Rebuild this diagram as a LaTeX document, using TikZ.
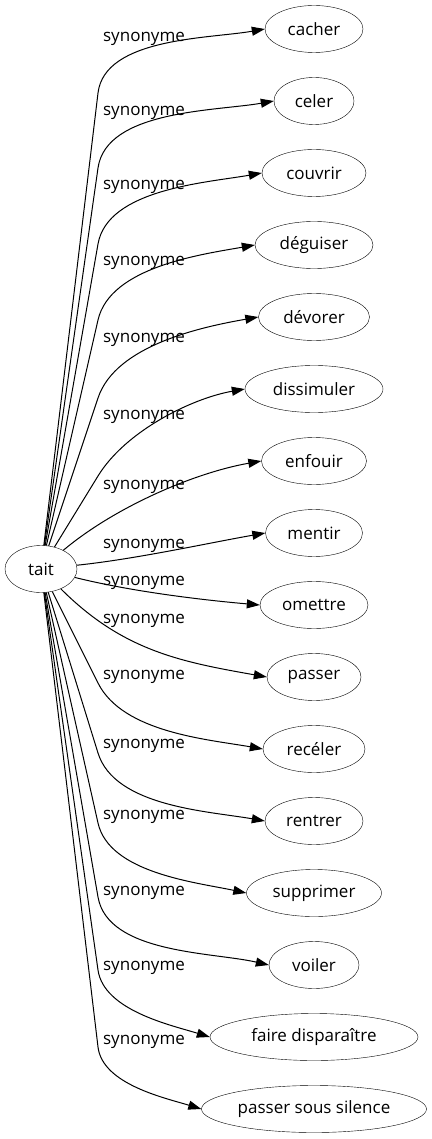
\documentclass[tikz,border=0pt]{standalone}
\usepackage{fontspec}
\setmainfont{Open Sans}
\usepackage{tikz}
\usetikzlibrary{shapes.geometric,arrows.meta,positioning}

\tikzset{
    word/.style={draw, ellipse, inner sep=0pt, minimum height=47pt, font=\fontsize{17}{20}\selectfont},
    rel/.style={inner sep=0pt, yshift=-3.5pt, font=\fontsize{17}{20}\selectfont},
    syn/.style={-{Triangle[length=13pt,width=9pt]}, line width=1pt, looseness=0.8},
}

\begin{document}
\begin{tikzpicture}[x=1pt,y=1pt]
    \useasboundingbox (0,0) rectangle (431,-1139);

    % Source word
    \node[word, minimum width=72pt] (tait) at (41,-569) {tait};

    % Synonyms
    \foreach \i/\t/\w in {1/cacher/98, 2/celer/80, 3/couvrir/104, 4/déguiser/118,
        5/dévorer/111, 6/dissimuler/138, 7/enfouir/105, 8/mentir/97, 9/omettre/108,
        10/passer/94, 11/recéler/102, 12/rentrer/98, 13/supprimer/135, 14/voiler/90,
        15/faire disparaître/208, 16/passer sous silence/225} {
        \node[word, minimum width=\w pt] (s\i) at (314,{-29-72*(\i-1)}) {\t};
    }

    % Labels
    \foreach \i/\y in {1/35, 2/109, 3/183, 4/259, 5/336, 6/413, 7/483, 8/542,
        9/579, 10/617, 11/673, 12/742, 13/813, 14/889, 15/964, 16/1038} {
        \node[rel] (l\i) at (144,-\y) {synonyme};
    }

    % Edges through a bend
    \foreach \i/\b/\a in {1/93/190, 2/168/190, 3/244/190, 4/320/190, 5/398/190,
        6/476/190, 11/683/170, 12/753/170, 13/823/168, 14/897/167, 15/970/163,
        16/1047/163} {
        \pgfmathsetmacro\ang{atan2(569-\b,57)}
        \coordinate (b\i) at (98,-\b);
        \draw[syn] (tait) -- (b\i) to[out=\ang, in=\a] (s\i.west);
    }

    % Direct edges
    \draw[syn] (tait) to[out=40, in=190] (s7.west);
    \draw[syn] (tait) to[out=6, in=190] (s8.west);
    \draw[syn] (tait) to[out=-14, in=175] (s9.west);
    \draw[syn, looseness=1] (tait) to[out=-45, in=170] (s10.west);
\end{tikzpicture}
\end{document}
